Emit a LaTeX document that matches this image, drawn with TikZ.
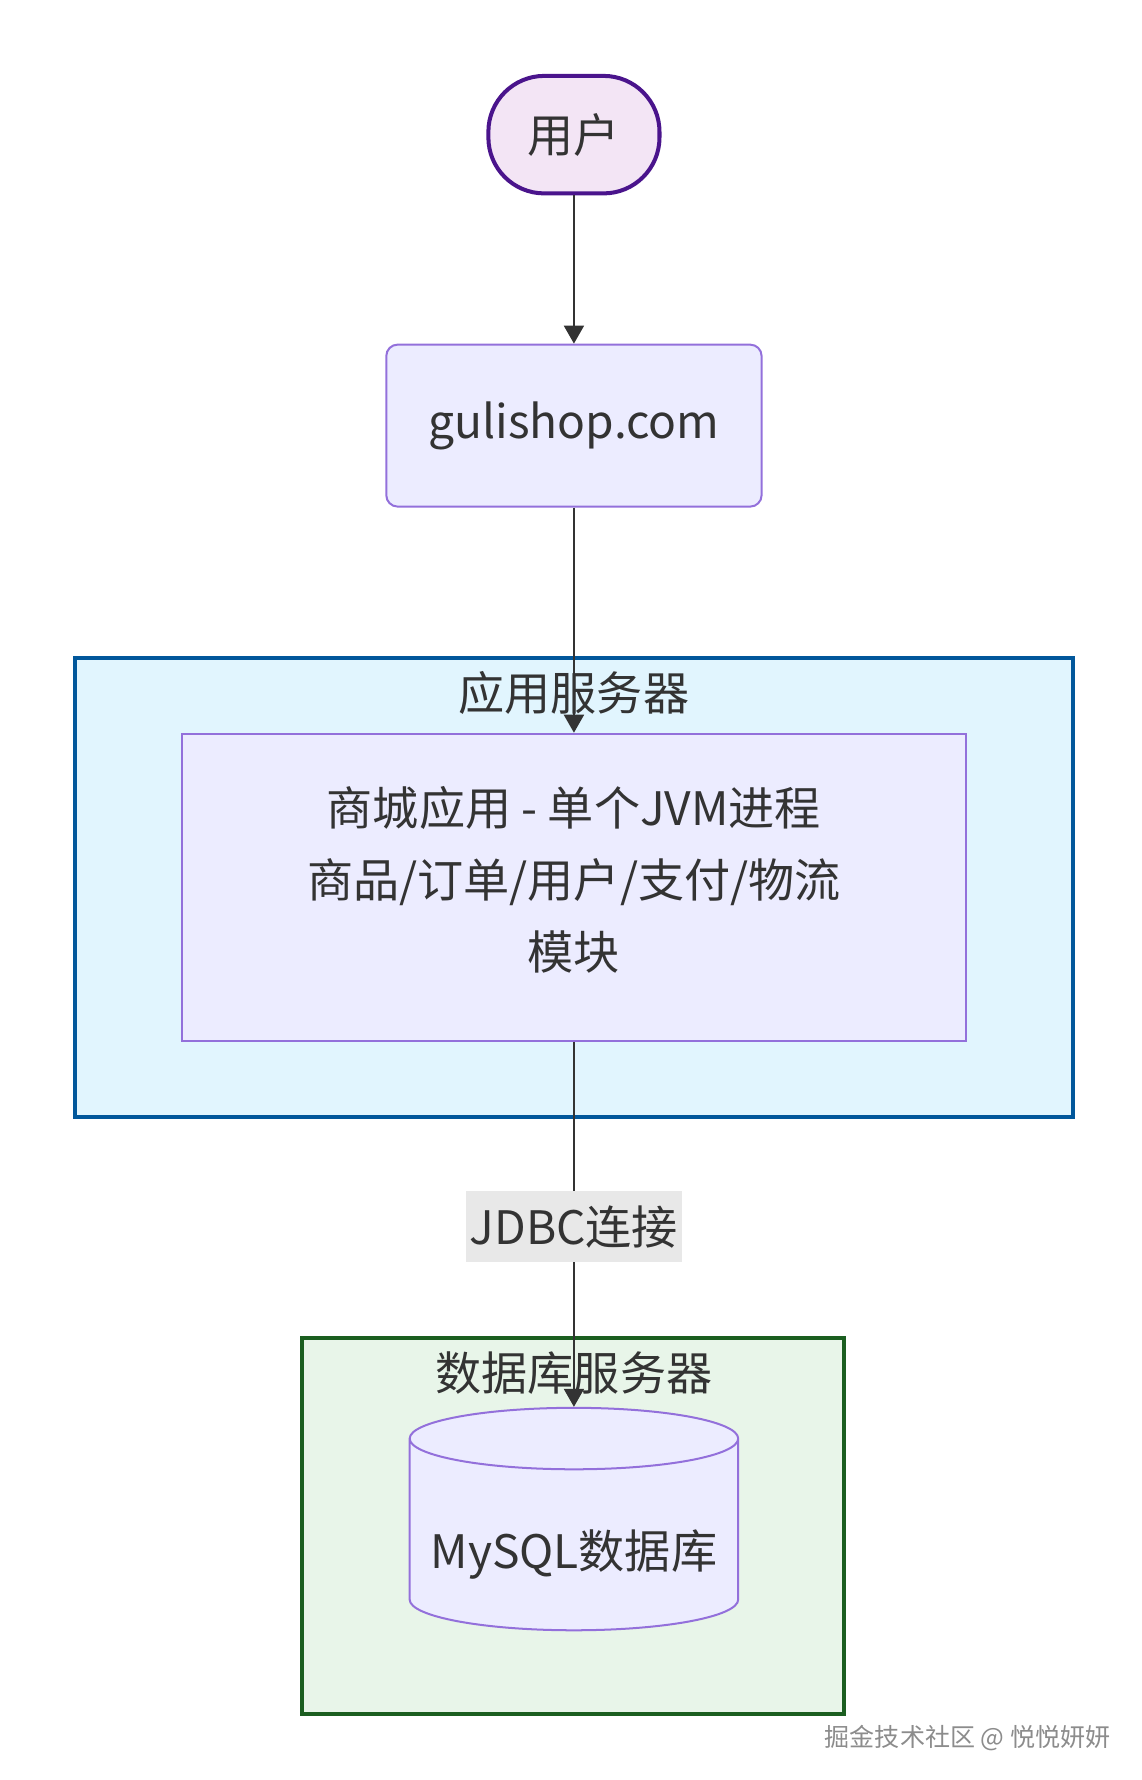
\documentclass[tikz,border=0pt]{standalone}
\usepackage{fontspec}
\setmainfont{Noto Sans CJK SC}
\usetikzlibrary{shapes.geometric,arrows.meta}
\begin{document}
\begin{tikzpicture}[x=0.02cm,y=-0.02cm]
            \definecolor{node_fill}{RGB}{236,236,255}
            \definecolor{node_line}{RGB}{147,112,219}
            \definecolor{user_fill}{RGB}{243,229,245}
            \definecolor{user_line}{RGB}{74,20,140}
            \definecolor{app_fill}{RGB}{225,245,254}
            \definecolor{app_line}{RGB}{1,87,155}
            \definecolor{db_fill}{RGB}{232,245,233}
            \definecolor{db_line}{RGB}{27,94,32}
            \definecolor{edge_color}{RGB}{51,51,51}
            \tikzstyle{every node} = [font=\fontsize{23}{36}\selectfont, text=edge_color]
            \tikzstyle{box} = [draw=node_line, fill=node_fill, line width=1pt]
            \tikzstyle{cluster} = [line width=2pt]
            \tikzstyle{link} = [draw=edge_color, line width=1pt, -{Triangle[length=9pt,width=10pt]}]
            \useasboundingbox (0,0) rectangle (1000,1560);
            % clusters
            \draw[cluster, draw=app_line, fill=app_fill] (66,577) rectangle (940,979);
            \node (app_title) at (503,607) {应用服务器};
            \draw[cluster, draw=db_line, fill=db_fill] (265,1173) rectangle (740,1502);
            \node (db_title) at (503,1203) {数据库服务器};
            % nodes
            \node[box, draw=user_line, fill=user_fill, line width=2pt, rounded corners=0.98cm, minimum width=3cm, minimum height=2.06cm] (user) at (503,118) {用户};
            \node[box, rounded corners=0.2cm, minimum width=6.58cm, minimum height=2.84cm] (web) at (503,373) {gulishop.com};
            \node[box, minimum width=13.76cm, minimum height=5.38cm, align=center] (mall) at (503,777.5) {};
            \node[align=center] (mall_text) at (503,771) {商城应用 - 单个JVM进程\\商品/订单/用户/支付/物流\\模块};
            \node[box, cylinder, shape border rotate=90, aspect=4.6, minimum width=5.76cm, minimum height=3.9cm] (mysql) at (503,1349) {};
            \node (mysql_text) at (503,1362) {MySQL数据库};
            % edges
            \draw[link] (user) -- (web);
            \draw[link] (web) -- (mall);
            \draw[link] (mall.south) -- (mysql.north);
            \node[fill=black!9, inner sep=2pt, minimum height=1.24cm] (jdbc) at (503,1075) {JDBC连接};
            \node[font=\fontsize{12.5}{15}\selectfont, text=black!45] (mark) at (848,1523) {掘金技术社区 @ 悦悦妍妍};
\end{tikzpicture}
\end{document}
